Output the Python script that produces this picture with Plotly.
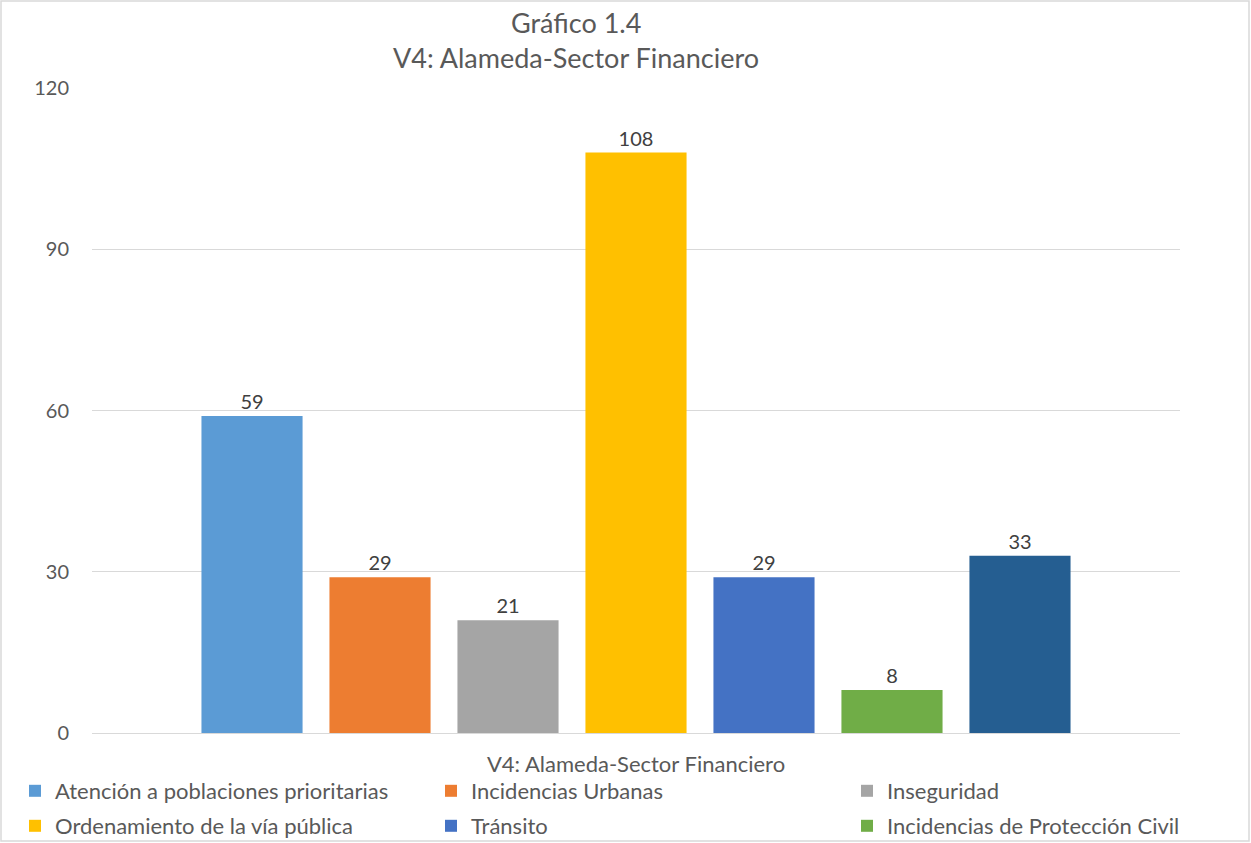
import plotly.graph_objects as go

category = ["V4: Alameda-Sector Financiero"]
series_names = [
    "Atención a poblaciones prioritarias",
    "Incidencias Urbanas",
    "Inseguridad",
    "Ordenamiento de la vía pública",
    "Tránsito",
    "Incidencias de Protección Civil",
    "Otros",
]
values = [59, 29, 21, 108, 29, 8, 33]
colors = ["#5B9BD5", "#ED7D31", "#A5A5A5", "#FFC000", "#4472C4", "#70AD47", "#255E91"]
show_in_legend = [True, True, True, True, True, True, False]
y_ticks = [0, 30, 60, 90, 120]
title_lines = ["Gráfico 1.4", "V4: Alameda-Sector Financiero"]

FONT = "Lato, Open Sans, sans-serif"
GRAY = "#595959"

# plot area in pixels: left 92, right 1180, top 88, bottom 733
L, R, T, B = 92, 1180, 88, 733
W, H = R - L, B - T
def px(xp):
    return (xp - L) / W
def py(yp):
    return (B - yp) / H

legend_ids = ["legend", "legend2", "legend3", "legend4", "legend5", "legend6", "legend"]

fig = go.Figure()
for name, v, c, sl, lg in zip(series_names, values, colors, show_in_legend, legend_ids):
    fig.add_trace(go.Bar(
        x=category, y=[v], name=name, marker_color=c, marker_line_width=0,
        text=[v], textposition="outside", cliponaxis=False,
        textfont=dict(size=20, color="#404040", family=FONT),
        showlegend=sl, legend=lg,
    ))

legend_text_x = [55, 471, 887]
legend_row_y = [791, 826]
legends = {}
for i, lg in enumerate(legend_ids[:6]):
    col, row = i % 3, i // 3
    legends[lg] = dict(
        orientation="h", x=px(legend_text_x[col] - 40), xanchor="left",
        y=py(legend_row_y[row]), yanchor="middle", itemwidth=30,
        font=dict(size=22, color=GRAY, family=FONT), bgcolor="rgba(0,0,0,0)",
    )

annotations = [
    dict(text=title_lines[0], x=px(576), y=py(22), xref="paper", yref="paper",
         xanchor="center", yanchor="middle", showarrow=False,
         font=dict(size=27, color=GRAY, family=FONT)),
    dict(text=title_lines[1], x=px(576), y=py(58), xref="paper", yref="paper",
         xanchor="center", yanchor="middle", showarrow=False,
         font=dict(size=27, color=GRAY, family=FONT)),
]

fig.update_layout(
    width=1251, height=843,
    margin=dict(l=L, r=1251 - R, t=T, b=843 - B, autoexpand=False),
    paper_bgcolor="white", plot_bgcolor="white",
    barmode="group", bargap=0.1765, bargroupgap=0.21,
    font=dict(family=FONT, color=GRAY, size=20),
    yaxis=dict(range=[0, 120], tickvals=y_ticks, gridcolor="#D9D9D9", gridwidth=1,
               zeroline=True, zerolinecolor="#D9D9D9", zerolinewidth=1,
               showline=False, ticks="", ticklabelstandoff=22,
               tickfont=dict(size=20, color=GRAY)),
    xaxis=dict(showline=False, ticks="", tickfont=dict(size=22, color=GRAY),
               ticklabelstandoff=16),
    annotations=annotations,
    shapes=[dict(type="rect", xref="paper", yref="paper",
                 x0=px(1), x1=px(1249), y0=py(841), y1=py(1),
                 line=dict(color="#D9D9D9", width=1.5), fillcolor="rgba(0,0,0,0)")],
    **legends,
)

fig.write_html("out.html", config={"displayModeBar": False},
               post_script="document.body.style.margin='0';document.body.style.overflow='hidden';")
